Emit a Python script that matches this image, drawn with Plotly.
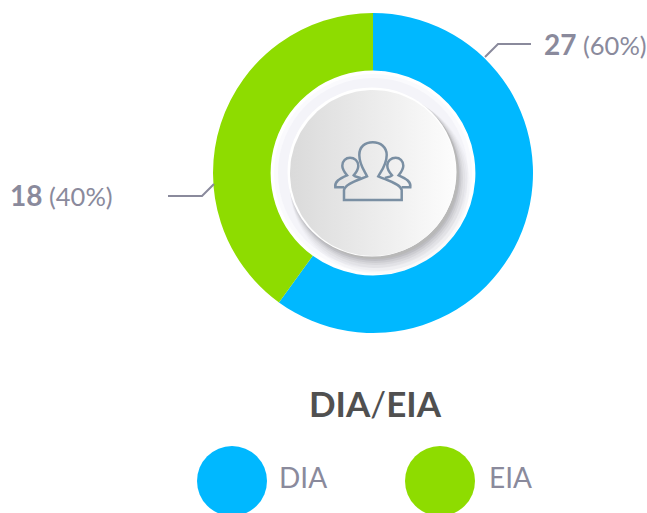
import numpy as np
import plotly.graph_objects as go

categories = ["DIA", "EIA"]
values = [27, 18]
colors = ["#00B8FF", "#8EDC00"]
title_parts = ["DIA", "/", "EIA"]

W, H = 647, 513
CX, CY, R = 373, 173, 160
FONT = "Lato"
GREY = "#8A8A9C"
total = sum(values)


def circle(cx, cy, r, fill, layer="below"):
    return dict(type="circle", xref="x", yref="y", x0=cx - r, x1=cx + r, y0=cy - r, y1=cy + r,
                fillcolor=fill, line_width=0, layer=layer)


fig = go.Figure()

# Raised button in the doughnut hole, with a left-to-right gradient
t = np.linspace(0, 2 * np.pi, 181)
fig.add_trace(go.Scatter(
    x=CX + 83 * np.cos(t), y=CY + 83 * np.sin(t), mode="lines", line=dict(width=0),
    fill="toself", hoverinfo="skip", showlegend=False,
    fillgradient=dict(type="horizontal", colorscale=[[0, "#DADADA"], [1, "#FDFDFD"]]),
))

fig.add_trace(go.Pie(
    labels=categories, values=values, hole=0.64, sort=False, direction="clockwise", rotation=0,
    marker=dict(colors=colors, line=dict(width=0)), textinfo="none", hoverinfo="label+value+percent",
    showlegend=False, domain=dict(x=[(CX - R) / W, (CX + R) / W], y=[1 - (CY + R) / H, 1 - (CY - R) / H]),
))

shapes = [circle(CX, CY, 102, "#FFFFFF"), circle(CX, CY, 99, "#FAFAFD"), circle(CX, CY, 95, "#F4F4F9")]
for off, r, a in [(11, 90, 0.03), (9, 89, 0.04), (7, 88, 0.05), (5, 87, 0.07), (4, 86, 0.09), (3, 85, 0.12)]:
    shapes.append(circle(CX + off * 0.6, CY + off, r, f"rgba(90,90,100,{a})"))
shapes.append(circle(CX + 1.5, CY + 1.5, 84.5, "#B8B8B8"))
shapes.append(circle(CX - 1, CY - 1, 84.5, "#FFFFFF"))


def px(d):
    """Icon path given in a 3x local grid, mapped to canvas pixels."""
    out = []
    nums = iter(d.split())
    for tok in nums:
        if tok.isalpha():
            out.append(tok)
            is_x = True
        else:
            v = float(tok)
            out.append(f"{(v / 3 + 250 if is_x else v / 3 + 50):.1f}")
            is_x = not is_x
    return " ".join(out)


ICON = "#7A8FA3"
main = ("M 282 450 L 282 420 C 285 402 320 392 351 379 C 345 365 328 345 328 315 "
        "C 328 290 345 277 368 277 C 392 277 410 292 410 315 C 410 345 392 365 385 379 "
        "C 415 392 452 402 455 420 L 455 450 Z")
left = ("M 282 412 L 256 412 C 253 395 268 386 291 376 C 283 366 277 356 277 347 "
        "C 277 332 288 323 300 323 C 313 323 325 332 325 347 C 325 357 318 368 311 376 "
        "C 316 381 323 381 332 384")
right = ("M 455 412 L 481 412 C 484 395 469 386 446 376 C 454 366 460 356 460 347 "
         "C 460 332 449 323 437 323 C 424 323 412 332 412 347 C 412 357 419 368 426 376 "
         "C 421 381 414 381 405 384")
for d in (main, left, right):
    shapes.append(dict(type="path", xref="x", yref="y", path=px(d), line=dict(color=ICON, width=2.5), layer="above"))

# Leader lines
for d in ("M 485 57 L 498 44 L 531 44", "M 214 184 L 202 196 L 168 196"):
    shapes.append(dict(type="path", xref="x", yref="y", path=d, line=dict(color=GREY, width=2), layer="above"))

# Legend swatches
for cat_color, cx in zip(colors, (232, 440)):
    shapes.append(circle(cx, 481, 35, cat_color, "above"))


def note(text, x, y, size, color, anchor="left"):
    return dict(text=text, x=x, y=y, xref="x", yref="y", xanchor=anchor, yanchor="middle", showarrow=False,
                font=dict(family=FONT, size=size, color=color))


def value_label(i):
    return (f'<span style="font-size:28px"><b>{values[i]}</b></span> '
            f"({round(values[i] / total * 100)}%)")


annotations = [
    note(value_label(0), 542, 44, 25.5, GREY),
    note(value_label(1), 8, 195, 25.5, GREY),
    note(f"<b>{title_parts[0]}</b>{title_parts[1]}<b>{title_parts[2]}</b>", 375, 403, 35, "#505050", "center"),
    note(categories[0], 277, 477, 28, GREY),
    note(categories[1], 487, 477, 28, GREY),
]

fig.update_layout(
    width=W, height=H, margin=dict(l=0, r=0, t=0, b=0), paper_bgcolor="#FFFFFF", plot_bgcolor="rgba(0,0,0,0)",
    xaxis=dict(range=[0, W], visible=False, domain=[0, 1], fixedrange=True),
    yaxis=dict(range=[H, 0], visible=False, domain=[0, 1], fixedrange=True),
    shapes=shapes, annotations=annotations, showlegend=False,
)
fig.write_html("out.html", config={"displayModeBar": False},
               post_script="document.body.style.margin='0';document.body.style.overflow='hidden';")
